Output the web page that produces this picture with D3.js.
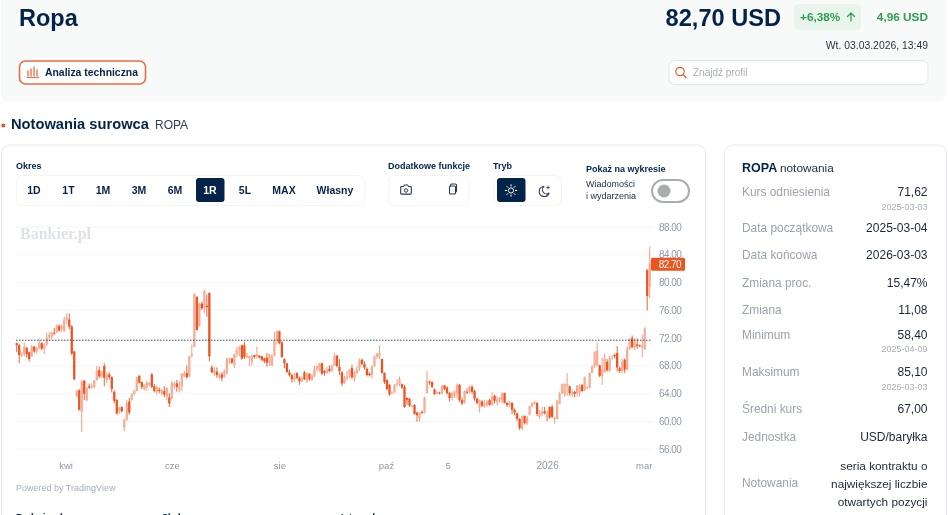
<!DOCTYPE html>
<html><head><meta charset="utf-8">
<script src="https://cdn.jsdelivr.net/npm/d3@7/dist/d3.min.js"></script>
<style>html,body{margin:0;padding:0;background:#fff;overflow:hidden}svg{display:block;filter:blur(.3px)}text{font-family:"Liberation Sans",Arial,sans-serif}</style>
</head><body><svg id="c" width="948" height="515"></svg>
<script>
const opens=[71.2,70.9,69.5,69.6,70.5,69.9,69.3,70.7,70.0,70.4,
71.2,70.4,71.0,72.0,72.1,72.7,72.7,73.7,73.2,73.0,
74.6,74.6,73.6,70.0,63.6,64.4,61.3,65.8,63.0,65.0,
64.8,64.9,65.9,67.3,66.4,67.9,65.9,66.7,66.3,64.2,
63.0,61.4,62.0,59.0,60.2,62.8,63.0,63.9,64.3,66.5,
65.6,64.6,64.8,65.2,66.7,65.0,64.2,64.5,63.9,64.3,
63.5,63.4,63.2,65.0,65.4,64.5,64.9,66.4,66.9,66.4,
69.4,70.7,77.9,73.6,76.9,76.2,76.6,78.4,67.7,66.8,
67.1,66.3,66.7,66.4,66.8,68.9,69.0,68.0,69.6,70.2,
70.9,70.9,69.2,69.0,68.5,69.5,69.3,69.4,69.3,69.0,
69.1,68.4,67.9,69.4,71.6,72.9,71.3,68.9,68.3,67.0,
66.6,65.9,66.9,66.2,65.7,67.0,65.7,66.8,65.9,66.4,
67.5,67.2,68.3,67.2,66.9,67.5,67.3,68.0,69.4,67.8,
67.0,65.5,66.1,66.4,67.6,66.1,66.9,67.6,68.8,68.2,
67.5,66.8,66.6,67.9,69.2,69.3,68.9,66.9,65.9,65.2,
64.0,64.1,65.2,65.3,65.3,64.9,63.3,63.2,62.1,62.3,
61.2,60.4,61.3,61.2,64.0,65.7,65.6,64.5,63.9,64.1,
64.0,65.1,64.8,64.0,63.3,63.6,64.0,65.2,63.0,62.7,
64.2,64.2,64.9,64.3,63.2,61.9,62.8,62.1,62.3,63.0,
62.3,63.6,62.7,63.1,62.9,64.0,62.6,62.3,62.6,61.6,
61.1,60.3,58.8,60.7,59.6,60.9,62.1,62.5,62.6,60.6,
61.0,61.4,60.0,62.0,62.0,60.2,60.3,62.5,64.0,63.8,
65.0,65.0,63.8,64.2,64.0,64.1,65.2,64.4,64.7,64.8,
66.9,67.9,68.0,68.0,66.5,67.0,68.5,67.2,69.0,69.5,
69.8,67.6,67.2,68.8,67.4,70.4,71.9,70.6,71.0,70.9,
70.5,70.3,81.7,79.3];
const highs=[71.3,71.1,70.0,71.3,70.7,70.0,70.9,70.8,70.7,71.9,
71.3,71.2,72.7,72.8,72.9,73.4,73.9,73.9,73.9,75.0,
75.5,75.5,73.8,70.1,64.4,64.6,65.9,65.9,64.9,65.4,
65.4,65.9,67.9,67.8,67.2,68.3,67.0,67.0,66.4,64.4,
63.2,62.0,62.1,60.3,63.0,63.3,64.0,64.5,66.4,66.6,
65.7,65.3,65.8,65.6,66.9,65.3,65.1,64.8,64.6,65.0,
64.9,64.0,65.7,65.7,65.9,65.7,66.9,67.2,68.0,69.4,
71.0,78.4,77.9,77.0,77.2,78.9,78.2,78.5,68.0,67.8,
67.7,66.9,67.0,67.4,69.1,69.1,69.0,69.7,70.7,70.8,
71.0,71.4,69.8,69.4,69.6,69.5,70.7,69.5,69.4,69.1,
69.8,69.7,69.6,72.8,73.0,73.0,71.5,69.0,68.3,67.4,
66.8,66.9,67.0,66.4,66.4,67.2,67.0,66.9,66.7,67.9,
68.0,68.3,68.4,67.3,67.8,68.0,68.1,69.8,69.5,68.9,
67.2,66.5,67.2,67.4,68.1,67.2,67.9,69.0,69.0,68.6,
67.7,67.0,68.0,69.4,69.8,70.9,69.0,67.0,66.0,65.3,
64.3,65.3,66.0,66.4,65.4,65.2,63.4,63.3,62.3,62.4,
61.3,61.2,61.5,63.5,67.2,65.8,65.7,64.7,64.3,64.2,
65.2,65.2,65.0,64.2,64.2,64.4,65.4,65.3,63.4,64.4,
64.7,65.1,65.2,64.5,63.3,63.1,63.0,63.0,63.0,63.2,
64.1,63.8,63.5,63.4,64.1,64.1,62.7,62.9,62.7,61.8,
61.2,60.4,60.8,60.8,60.7,62.2,62.7,62.9,62.7,61.6,
62.0,62.0,61.5,62.1,62.3,60.6,63.0,64.2,65.4,65.4,
66.9,65.1,64.4,64.3,65.2,65.3,65.3,66.4,65.0,67.0,
68.0,70.0,71.3,68.1,69.1,69.7,68.9,69.4,69.5,69.7,
70.8,67.8,69.0,69.0,70.7,71.9,72.3,71.9,71.9,71.0,
72.4,73.5,81.9,85.1];
const lows=[69.9,68.3,69.2,69.3,69.1,68.6,69.3,69.8,69.7,70.3,
70.2,69.6,70.8,71.5,71.7,72.4,72.7,72.9,72.8,72.8,
74.0,73.2,69.5,65.9,63.4,61.5,58.4,63.0,62.8,64.6,
64.6,64.7,65.8,66.2,66.2,65.0,65.4,66.0,64.1,62.5,
60.9,61.0,61.2,58.5,60.0,60.9,62.9,63.7,64.3,65.4,
64.6,64.4,64.3,65.0,64.7,64.1,63.8,64.0,63.7,63.4,
63.0,62.0,63.1,64.6,64.2,64.1,64.3,66.3,66.1,66.3,
69.1,70.6,73.0,73.6,76.0,75.5,75.0,68.6,66.9,66.5,
66.2,66.0,65.7,66.2,66.8,68.2,68.2,67.6,69.2,69.3,
68.8,68.9,69.0,67.9,67.9,69.0,69.0,69.0,68.6,68.3,
67.8,67.9,67.9,69.3,71.0,71.0,69.1,67.6,67.0,66.4,
65.5,65.6,66.0,65.2,65.6,65.9,65.5,65.8,65.8,66.3,
67.1,67.1,66.6,66.5,66.8,67.0,67.0,67.9,67.7,66.6,
65.0,65.3,65.8,66.2,66.0,65.7,66.7,67.2,68.0,67.4,
66.4,66.4,66.1,67.8,68.9,68.9,66.8,65.3,64.4,63.6,
63.9,64.0,65.0,65.0,64.6,61.9,62.3,62.0,62.0,60.9,
59.9,59.9,61.0,61.1,64.0,65.2,64.7,63.7,63.8,63.8,
63.8,64.4,63.8,62.8,63.0,63.3,63.2,62.7,62.3,62.5,
63.9,64.0,63.9,62.9,62.4,61.2,62.0,61.9,62.0,62.2,
62.2,62.5,62.2,62.6,62.5,62.5,62.0,62.0,61.0,60.8,
60.0,58.7,58.7,59.5,59.4,60.8,62.0,62.3,60.7,60.3,
60.7,60.9,59.9,60.3,60.4,59.6,60.2,62.4,63.9,63.5,
63.6,63.6,63.4,63.4,63.5,63.5,64.2,64.3,64.6,64.7,
66.9,67.6,67.8,66.3,65.2,67.0,67.1,67.1,68.8,69.0,
67.1,66.9,66.9,66.9,67.3,70.2,70.5,70.2,70.4,70.6,
69.2,70.3,75.9,77.7];
const closes=[70.9,69.5,69.6,70.7,69.6,68.9,70.7,70.0,70.4,71.2,
70.4,71.0,72.0,72.4,72.7,72.6,73.7,73.0,73.6,74.6,
74.9,73.6,69.7,66.0,64.4,61.6,65.7,63.9,64.8,64.8,
65.0,65.9,67.2,66.4,67.0,66.2,66.6,66.3,64.6,62.9,
61.1,61.9,61.4,60.2,62.6,61.2,63.9,64.3,66.2,65.5,
64.9,65.2,65.5,65.5,64.9,64.3,64.9,64.3,64.4,63.8,
64.7,62.5,65.5,65.4,64.9,64.9,66.8,66.8,66.3,69.3,
69.6,78.3,73.1,76.9,76.2,78.7,76.4,69.3,67.0,67.3,
66.6,66.7,66.2,67.2,69.0,69.0,68.4,69.6,70.2,70.6,
69.0,69.2,69.4,69.3,69.3,69.2,69.6,69.1,68.8,68.6,
68.4,69.6,69.4,71.6,72.9,71.2,69.2,68.3,67.0,66.6,
66.0,66.3,66.2,65.7,66.2,66.0,66.8,66.0,66.5,67.5,
67.9,68.3,66.8,66.9,67.4,67.2,68.0,69.4,67.9,67.2,
65.4,66.2,66.4,67.4,66.3,67.0,67.5,68.7,68.2,67.7,
66.6,66.6,67.9,69.3,69.7,69.8,66.9,65.6,64.6,63.8,
64.1,65.2,65.4,66.0,64.8,62.0,63.0,62.2,62.2,61.0,
60.8,61.2,61.2,63.4,65.7,65.6,64.9,63.9,64.1,64.0,
65.1,64.6,64.0,63.3,64.0,64.2,65.2,63.0,62.5,64.3,
64.1,64.9,64.2,63.2,62.6,63.0,62.2,62.5,62.8,62.3,
63.5,62.9,63.1,63.4,64.0,62.6,62.3,62.7,61.6,61.2,
60.3,59.0,60.7,59.7,60.5,62.1,62.6,62.7,61.0,61.2,
61.4,61.1,61.1,60.5,60.6,60.4,62.9,64.0,65.3,65.3,
65.3,64.0,64.1,63.9,65.1,65.0,64.3,66.3,64.9,66.9,
67.9,70.0,70.1,66.5,67.4,69.0,67.3,69.0,69.1,69.3,
67.7,67.2,68.5,67.4,70.4,71.8,70.6,71.4,70.8,70.8,
70.8,73.3,78.0,82.7];
const priceTicks=[56,60,64,68,72,76,80,84,88];
const timeTickIdx=[19.5,62,105,147.6,172.2,212,250.6];
const timeTickNames=["kwi","cze","sie","paź","5","2026","mar"];
const refPrice=71.62, lastPrice=82.70;
const periods=["1D","1T","1M","3M","6M","1R","5L","MAX","Własny"];
const periodX=[34,68.5,103,139,175,210,245,284,335];
const statLabels=["Kurs odniesienia","Data początkowa","Data końcowa","Zmiana proc.","Zmiana","Minimum","Maksimum","Średni kurs","Jednostka"];
const statValues=["71,62","2025-03-04","2026-03-03","15,47%","11,08","58,40","85,10","67,00","USD/baryłka"];
const statDates=["2025-03-03","","","","","2025-04-09","2026-03-03","",""];
const statY=[192,228,255,283,310,334.5,372,409,437];
const quoteNote=["seria kontraktu o","największej liczbie","otwartych pozycji"];

const navy="#04234a",orange="#ee5420",light="#f6ad96",grayAxis="#8f99a9",labelGray="#9aa2ad";
const svg=d3.select("#c");
const T=(x,y,s,o={})=>{const t=svg.append("text").attr("x",x).attr("y",y).text(s)
 .attr("font-size",o.size||11).attr("font-weight",o.w||400).attr("fill",o.c||navy).attr("text-anchor",o.a||"start");
 if(o.f)t.style("font-family",o.f);return t;};
const R=(x,y,w,h,r,f,st,sw)=>svg.append("rect").attr("x",x).attr("y",y).attr("width",w).attr("height",h).attr("rx",r).attr("fill",f).attr("stroke",st||"none").attr("stroke-width",sw||1);
const P=(d,st,sw,f,g)=>(g||svg).append("path").attr("d",d).attr("stroke",st||"none").attr("stroke-width",sw||1).attr("fill",f||"none").attr("stroke-linecap","round").attr("stroke-linejoin","round");

// header
R(1,-10,945,112,8,"#f8f9f9");
T(19,25.5,"Ropa",{size:23.5,w:700});
T(781,25.5,"82,70 USD",{size:23.6,w:700,a:"end"});
R(794,4,67,26,5,"#e9f5ec");
T(800,21,"+6,38%",{size:11.8,w:700,c:"#2f9e4f"});
P("M851 21V13M847.5 16.5L851 13L854.5 16.5","#2f9e4f",1.2);
T(928,21,"4,96 USD",{size:11.8,w:700,c:"#2f9e4f",a:"end"});
T(928,49,"Wt. 03.03.2026, 13:49",{size:10.4,c:"#2b3442",a:"end"});
R(19.5,61,126,23,6,"#fff","#ec6a3f",1.6);
[[28,5],[31,7],[34,9],[37,6]].forEach(([x,h])=>P(`M${x} 76V${76-h}`,"#ec6a3f",1.3));
P("M27 77.5H38.5","#ec6a3f",1.2);
T(45,75.5,"Analiza techniczna",{size:10.4,w:700});
R(669,60.5,259,24,6,"#fff","#e2e5e8",1);
svg.append("circle").attr("cx",680).attr("cy",71.5).attr("r",4.2).attr("fill","none").attr("stroke","#e9602c").attr("stroke-width",1.2);
P("M683 74.5L686 77.5","#e9602c",1.3);
T(693,76,"Znajdź profil",{size:10,c:"#a9aeb6"});

// section title
svg.append("circle").attr("cx",3.3).attr("cy",125.5).attr("r",2).attr("fill",orange);
T(11,129,"Notowania surowca",{size:14.7,w:700});
T(155,129,"ROPA",{size:12,c:"#33405a"});

// cards
R(1.5,145,704,400,8,"#fff","#e6e8eb",1);
R(724.5,145,222,400,8,"#fff","#e6e8eb",1);

// controls
T(16,169,"Okres",{size:9,w:700});
R(16.5,175.5,348,30,6,"#fff","#f3f4f6",1);
R(196,178,28.5,24,3,navy);
periods.forEach((p,i)=>T(periodX[i],194,p,{size:10.5,w:700,a:"middle",c:p==="1R"?"#fff":navy}));
T(388,169,"Dodatkowe funkcje",{size:9,w:700});
R(388.5,175.5,80,30,6,"#fff","#f3f4f6",1);
P("M401.5 186.5h2l1-1.5h3l1 1.5h2a.8.8 0 0 1 .8.8v6a.8.8 0 0 1-.8.8h-9a.8.8 0 0 1-.8-.8v-6a.8.8 0 0 1 .8-.8z","#2b3a52",1.1);
svg.append("circle").attr("cx",406).attr("cy",190.5).attr("r",1.7).attr("fill","none").attr("stroke","#2b3a52");
R(449.5,186,6,8,1,"#fff","#2b3a52",1.1);
P("M450.5 186v-1a1 1 0 0 1 1-1h4a1 1 0 0 1 1 1v6a1 1 0 0 1-1 1","#2b3a52",1.1);
T(493,169,"Tryb",{size:9,w:700});
R(493.5,175.5,68,30,6,"#fff","#f3f4f6",1);
R(497,178,28.5,24,3,navy);
svg.append("circle").attr("cx",511).attr("cy",190.5).attr("r",2.6).attr("fill","none").attr("stroke","#fff");
d3.range(8).forEach(k=>{const a=k*Math.PI/4;P(`M${511+4.4*Math.cos(a)} ${190.5+4.4*Math.sin(a)}L${511+5.8*Math.cos(a)} ${190.5+5.8*Math.sin(a)}`,"#fff",1);});
P("M549 193a5 5 0 1 1-5-6.5a4 4 0 0 0 5 6.5z","#2b3a52",1.1);
P("M548 186v3M546.5 187.5h3","#2b3a52",.8);
T(586,172,"Pokaż na wykresie",{size:9,w:700});
T(586,187,"Wiadomości",{size:9,c:"#1d2c44"});
T(586,199,"i wydarzenia",{size:9,c:"#1d2c44"});
R(652,180,37,22,11,"#fff","#aaadb0",2);
svg.append("circle").attr("cx",664).attr("cy",191).attr("r",6.5).attr("fill","#aaadb0");

// chart
const n=closes.length;
const x=d3.scaleLinear().domain([0,n-1]).range([16.7,649.7]);
const y=d3.scaleLinear().domain([56,88]).range([448.7,226.5]);
const yAxis=d3.axisRight(y).tickValues(priceTicks).tickFormat(d3.format(".2f")).tickSize(-635).tickPadding(8);
const gy=svg.append("g").attr("transform","translate(651,0)").call(yAxis);
gy.select(".domain").remove();
gy.selectAll("line").attr("stroke","#f4f5f6");
gy.selectAll("text").attr("fill",grayAxis).attr("font-size",10).attr("x",8).attr("dy","0.36em").attr("letter-spacing","-0.55");
const xAxis=d3.axisBottom(x).tickValues(timeTickIdx).tickFormat((d,i)=>timeTickNames[i]).tickSize(0).tickPadding(0);
const gx=svg.append("g").attr("transform","translate(0,462)").call(xAxis);
gx.select(".domain").remove();
gx.selectAll("text").attr("fill",grayAxis).attr("font-size",9.5).attr("dy","0.7em");
gx.selectAll("text").filter(d=>d===212).attr("font-size",10);

const bankier=T(20,239,"Bankier",{size:16,w:700,c:"#dfe3e9",f:"'Liberation Serif',serif"});
bankier.append("tspan").attr("fill","#f6d8cc").text(".");
bankier.append("tspan").text("pl");

const g=svg.append("g");
const idx=d3.range(n);
g.selectAll("line.w").data(idx).join("line").attr("class","w")
 .attr("x1",i=>x(i)).attr("x2",i=>x(i)).attr("y1",i=>y(highs[i])).attr("y2",i=>y(lows[i]))
 .attr("stroke",i=>closes[i]>=opens[i]?"#f3936f":orange).attr("stroke-width",.9);
g.selectAll("rect.b").data(idx).join("rect").attr("class","b")
 .attr("x",i=>x(i)-1.15).attr("width",2.3)
 .attr("y",i=>y(Math.max(opens[i],closes[i])))
 .attr("height",i=>Math.max(1,Math.abs(y(opens[i])-y(closes[i]))))
 .attr("fill",i=>closes[i]>=opens[i]?light:orange);

svg.append("line").attr("x1",16).attr("x2",651).attr("y1",y(refPrice)).attr("y2",y(refPrice))
 .attr("stroke","#3c4a66").attr("stroke-width",1).attr("stroke-dasharray","1.5 1.5");
R(651,y(lastPrice)-5.5,34,13,1.5,orange);
T(670,y(lastPrice)+4.5,d3.format(".2f")(lastPrice),{size:10,c:"#fff",a:"middle"}).attr("letter-spacing","-0.55");

T(16,490.5,"Powered by TradingView",{size:9,c:"#a5afc0"});
T(16,520,"Rodzaj wykresu",{size:9,w:700});
T(162,520,"Skala",{size:9,w:700});
T(341,520,"Interwał",{size:9,w:700});

// stats panel
T(742,172,"ROPA",{size:12.5,w:700});
T(780,172,"notowania",{size:11.8,c:"#20304a"});
statLabels.forEach((s,i)=>{
 T(742,statY[i]+4,s,{size:11.9,c:labelGray});
 T(927.5,statY[i]+4,statValues[i],{size:12,c:"#1c2638",a:"end"});
 if(statDates[i])T(927.5,statY[i]+17.5,statDates[i],{size:9,c:"#a9aeb6",a:"end"});
});
T(742,487,"Notowania",{size:11.9,c:labelGray});
quoteNote.forEach((s,i)=>T(927.5,470+i*18,s,{size:11.8,c:"#1c2638",a:"end"}));
</script></body></html>
